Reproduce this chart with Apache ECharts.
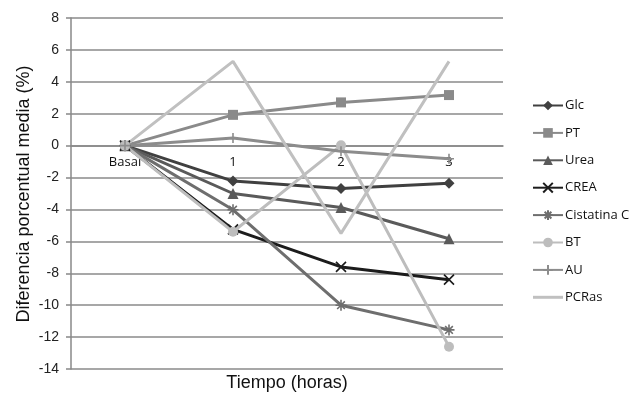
<!DOCTYPE html>
<html>
<head>
<meta charset="utf-8">
<script src="https://cdn.jsdelivr.net/npm/echarts@6/dist/echarts.min.js"></script>
<style>html,body{margin:0;padding:0;background:#fff}#c{width:640px;height:398px}</style>
</head>
<body>
<div id="c"></div>
<script>
var categories = ['Basal', '1', '2', '3'];
var yTicks = [-14, -12, -10, -8, -6, -4, -2, 0, 2, 4, 6, 8];
var glc = [0, -2.22, -2.69, -2.36];
var pt = [0, 1.93, 2.71, 3.17];
var urea = [0, -3.0, -3.88, -5.84];
var crea = [0, -5.25, -7.6, -8.4];
var cistatina = [0, -4.02, -10.0, -11.55];
var bt = [0, -5.4, 0.02, -12.6];
var au = [0, 0.48, -0.35, -0.82];
var pcras = [0, 5.28, -5.5, 5.28];

var seriesDefs = [
  {name: 'Glc', data: glc, color: '#404040', symbol: 'diamond', size: 11},
  {name: 'PT', data: pt, color: '#8a8a8a', symbol: 'rect', size: 10},
  {name: 'Urea', data: urea, color: '#5a5a5a', symbol: 'triangle', size: 11},
  {name: 'CREA', data: crea, color: '#1c1c1c', symbol: 'path://M0,0L10,10M10,0L0,10', size: 10, stroke: true},
  {name: 'Cistatina C', data: cistatina, color: '#6e6e6e', symbol: 'path://M0,5L10,5M5,0L5,10M1.5,1.5L8.5,8.5M8.5,1.5L1.5,8.5', size: 11, stroke: true},
  {name: 'BT', data: bt, color: '#bdbdbd', symbol: 'circle', size: 10},
  {name: 'AU', data: au, color: '#8c8c8c', symbol: 'path://M0,5L10,5M5,0L5,10', size: 10, stroke: true},
  {name: 'PCRas', data: pcras, color: '#c0c0c0', symbol: 'none', size: 0}
];

var series = seriesDefs.map(function (d) {
  return {
    name: d.name,
    type: 'line',
    data: d.data,
    symbol: d.symbol,
    symbolSize: d.size,
    showSymbol: d.symbol !== 'none',
    animation: false,
    lineStyle: {color: d.color, width: 3},
    itemStyle: d.stroke ? {color: d.color, borderColor: d.color, borderWidth: 1.6} : {color: d.color, borderWidth: 0}
  };
});

var gridTop = 18, gridBottom = 29, H = 398;
var yMin = yTicks[0], yMax = yTicks[yTicks.length - 1];
var plotH = H - gridTop - gridBottom;
var zeroOffset = -plotH * (0 - yMin) / (yMax - yMin);

var legendData = seriesDefs.map(function (d) {
  if (d.symbol === 'none') {
    return {name: d.name, icon: 'path://M0,0L30,0L30,3L0,3Z'};
  }
  return {name: d.name};
});

var chart = echarts.init(document.getElementById('c'), null, {renderer: 'canvas'});
chart.setOption({
  backgroundColor: '#fff',
  animation: false,
  grid: {left: 71, right: 137, top: gridTop, bottom: gridBottom, containLabel: false},
  legend: {
    orient: 'vertical',
    left: 527,
    top: 94,
    itemWidth: 30,
    itemHeight: 12,
    itemGap: 14.4,
    textStyle: {fontFamily: 'Open Sans', fontSize: 13, color: '#111', padding: [0, 0, 0, -3]},
    data: legendData
  },
  xAxis: {
    type: 'category',
    data: categories,
    boundaryGap: true,
    position: 'bottom',
    offset: zeroOffset,
    axisLine: {onZero: false, lineStyle: {color: '#888', width: 1.5}},
    axisTick: {show: false},
    axisLabel: {margin: 10, fontFamily: 'Open Sans', fontSize: 13, color: '#111'},
    splitLine: {show: false}
  },
  yAxis: {
    type: 'value',
    min: yMin,
    max: yMax,
    interval: 2,
    axisLine: {show: true, onZero: false, lineStyle: {color: '#888', width: 1.5}},
    axisTick: {show: true, length: 5, lineStyle: {color: '#888', width: 1.5}},
    axisLabel: {margin: 12, fontFamily: 'Liberation Sans', fontSize: 14, color: '#222'},
    splitLine: {show: true, lineStyle: {color: '#8a8a8a', width: 1.5}}
  },
  graphic: [{
    type: 'text',
    x: 287,
    y: 383,
    style: {text: 'Tiempo (horas)', textAlign: 'center', textVerticalAlign: 'middle', font: '18px "Liberation Sans"', fill: '#111'}
  }, {
    type: 'text',
    x: 24,
    y: 194,
    rotation: Math.PI / 2,
    style: {text: 'Diferencia porcentual media (%)', textAlign: 'center', textVerticalAlign: 'middle', font: '18px "Liberation Sans"', fill: '#111'}
  }],
  series: series
});
</script>
</body>
</html>
